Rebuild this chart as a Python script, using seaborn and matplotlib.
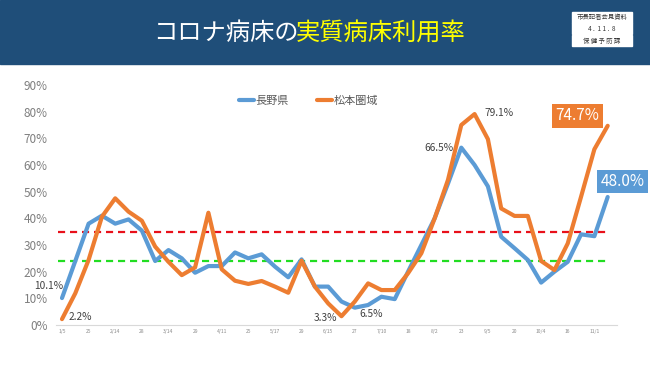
import pandas as pd
import seaborn as sns
import matplotlib.pyplot as plt
from matplotlib.patches import Rectangle

# データ (週ごとの実質病床利用率, %)
nagano = [10.1, 24, 38, 41, 38, 39.6, 35.4, 24, 28.1, 25,
          19.6, 22.1, 22.1, 27.2, 25, 26.5, 21.9, 17.9, 24.6, 14.4,
          14.4, 8.8, 6.5, 7.5, 10.6, 9.7, 20, 30, 40, 53,
          66.5, 60, 52, 33.1, 28.8, 24.4, 15.9, 20, 23.7, 34,
          33.3, 48.0]
matsumoto = [2.2, 11.9, 24.4, 40.6, 47.5, 42.5, 39.1, 29.4, 23.7, 18.7,
             21.6, 42.1, 20.9, 16.6, 15.4, 16.5, 14.4, 12.1, 24.1, 14.4,
             8.1, 3.3, 8.8, 15.6, 13.1, 13.1, 19.4, 26.9, 40, 54.4,
             75, 79.1, 69.7, 43.7, 40.9, 40.9, 24, 20.6, 30.6, 48.1,
             65.9, 74.7]
tick_labels = ["1/5", "25", "2/14", "28", "3/14", "29", "4/11", "25", "5/17", "29",
               "6/15", "27", "7/10", "18", "8/2", "23", "9/5", "20", "10/4", "16", "11/1"]
series_names = ["長野県", "松本圏域"]
red_level = 35
green_level = 24

blue = "#5B9BD5"
orange = "#ED7D31"

df = pd.DataFrame({
    "idx": list(range(len(nagano))) * 2,
    "val": nagano + matsumoto,
    "series": [series_names[0]] * len(nagano) + [series_names[1]] * len(matsumoto),
})

sns.set_style("white")
plt.rcParams['font.family'] = ['Noto Sans CJK JP', 'DejaVu Sans']

W, H = 650, 365
fig = plt.figure(figsize=(6.5, 3.65), dpi=100)

# ヘッダー
fig.patches.append(Rectangle((0, 1 - 64 / H), 1, 64 / H, transform=fig.transFigure,
                             color="#1F4E79", zorder=0))
fig.text(153 / W, 1 - 33 / H, "コロナ病床の", color="white", fontsize=17.5,
         ha="left", va="center")
fig.text(296 / W, 1 - 33 / H, "実質病床利用率", color="#FFFF00", fontsize=17.5,
         ha="left", va="center")
rows = [("市長記者会見資料", 12), ("4 .  1 1 .  8", 23.5), ("保 健 予 防 課", 35.5)]
for txt, top in rows:
    fig.patches.append(Rectangle((572 / W, 1 - (top + 10.5) / H), 60 / W, 10.5 / H,
                                 transform=fig.transFigure, color="white", zorder=1))
    fig.text(602 / W, 1 - (top + 5.5) / H, txt, color="#333333", fontsize=4.6,
             ha="center", va="center", zorder=2)

ax = fig.add_axes([56 / W, 40 / H, 561 / W, 240 / H])
sns.lineplot(data=df, x="idx", y="val", hue="series", palette=[blue, orange],
             linewidth=3, ax=ax)

n = len(nagano)
ax.plot([-0.3, n - 1], [red_level, red_level], color="#E8101A", lw=1.6, dashes=(3.2, 2.2), zorder=1)
ax.plot([-0.3, n - 1], [green_level, green_level], color="#22DD22", lw=1.6, dashes=(3.2, 2.2), zorder=1)

ax.set_xlim(-0.45, 41.7)
ax.set_ylim(0, 90)
ax.set_xticks(range(0, n, 2))
ax.set_xticklabels(tick_labels, fontsize=3.6, color="#8c8c8c")
ax.set_yticks(range(0, 91, 10))
ax.set_yticklabels([f"{v}%" for v in range(0, 91, 10)], fontsize=8.5, color="#7f7f7f")
ax.tick_params(axis="both", length=0)
ax.tick_params(axis="y", pad=6)
ax.tick_params(axis="x", pad=3)
ax.set_xlabel("")
ax.set_ylabel("")
for s in ["top", "right", "left"]:
    ax.spines[s].set_visible(False)
ax.spines["bottom"].set_color("#d9d9d9")
ax.spines["bottom"].set_linewidth(0.8)

leg = ax.legend(ncol=2, loc="center", bbox_to_anchor=(0.45, 0.933), frameon=False,
                handlelength=1.35, handletextpad=0.1, columnspacing=2.6, fontsize=8)
for t in leg.get_texts():
    t.set_color("#595959")

# 注記
notes = [
    ("10.1%", 0, nagano[0], (1, 12), "right"),
    ("2.2%", 0, matsumoto[0], (7, 2), "left"),
    ("3.3%", 21, matsumoto[21], (-4, -2), "right"),
    ("6.5%", 22, nagano[22], (5, -6), "left"),
    ("66.5%", 30, nagano[30], (-8, 0), "right"),
    ("79.1%", 31, matsumoto[31], (10, 1), "left"),
]
for txt, i, v, off, ha in notes:
    ax.annotate(txt, (i, v), xytext=off, textcoords="offset pixels", ha=ha, va="center",
                fontsize=7.3, color="#404040", annotation_clip=False)

ax.annotate("74.7%", (n - 1, matsumoto[-1]), xytext=(-30, 10), textcoords="offset pixels",
            ha="center", va="center", fontsize=11, color="white", annotation_clip=False,
            bbox=dict(boxstyle="square,pad=0.22", fc=orange, ec="none"))
ax.annotate("48.0%", (n - 1, nagano[-1]), xytext=(15, 15.5), textcoords="offset pixels",
            ha="center", va="center", fontsize=11, color="white", annotation_clip=False,
            bbox=dict(boxstyle="square,pad=0.22", fc=blue, ec="none"))

fig.savefig("out.png", dpi=100)
